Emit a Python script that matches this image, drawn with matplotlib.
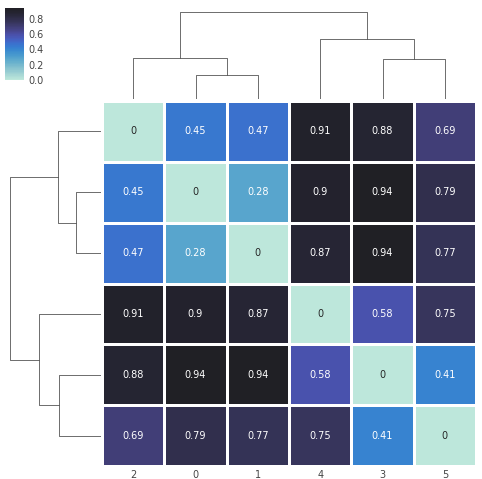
import numpy as np
import pandas as pd
import matplotlib
matplotlib.use("Agg")
import matplotlib.pyplot as plt
import seaborn as sns

# pairwise distances between items 0..5
labels = ["0", "1", "2", "3", "4", "5"]
row0 = [0.00, 0.28, 0.45, 0.94, 0.90, 0.79]
row1 = [0.28, 0.00, 0.47, 0.94, 0.87, 0.77]
row2 = [0.45, 0.47, 0.00, 0.88, 0.91, 0.69]
row3 = [0.94, 0.94, 0.88, 0.00, 0.58, 0.41]
row4 = [0.90, 0.87, 0.91, 0.58, 0.00, 0.75]
row5 = [0.79, 0.77, 0.69, 0.41, 0.75, 0.00]
cbar_ticks = [0.0, 0.2, 0.4, 0.6, 0.8]

df = pd.DataFrame([row0, row1, row2, row3, row4, row5], index=labels, columns=labels)

sns.set_style("white")
plt.rcParams["font.family"] = ["DejaVu Sans"]
plt.rcParams["text.color"] = "#444444"
plt.rcParams["xtick.color"] = "#444444"
plt.rcParams["ytick.color"] = "#444444"

g = sns.clustermap(df, cmap="icefire", center=1, annot=True,
                   annot_kws={"size": 7}, linewidths=1.0, linecolor="white",
                   figsize=(4.82, 4.79))

W, H = 482.0, 479.0
g.ax_heatmap.set_position([102 / W, 1 - 466 / H, 374 / W, 365 / H])
g.ax_col_dendrogram.set_position([102 / W, 1 - 99 / H, 374 / W, 91.5 / H])
g.ax_row_dendrogram.set_position([5.5 / W, 1 - 466 / H, 96 / W, 365 / H])
g.cax.set_position([5 / W, 1 - 80 / H, 19 / W, 72 / H])

g.ax_heatmap.tick_params(axis="x", labelsize=7, length=0, pad=3)
g.ax_heatmap.tick_params(axis="y", labelsize=7, length=0, pad=1.5)
for t in g.ax_heatmap.get_yticklabels():
    t.set_rotation(270)
    t.set_va("center")
g.cax.set_yticks(cbar_ticks)
g.cax.set_yticklabels([f"{v:.1f}" for v in cbar_ticks])
g.cax.tick_params(labelsize=7, length=0)

g.fig.savefig("out.png", dpi=100)
